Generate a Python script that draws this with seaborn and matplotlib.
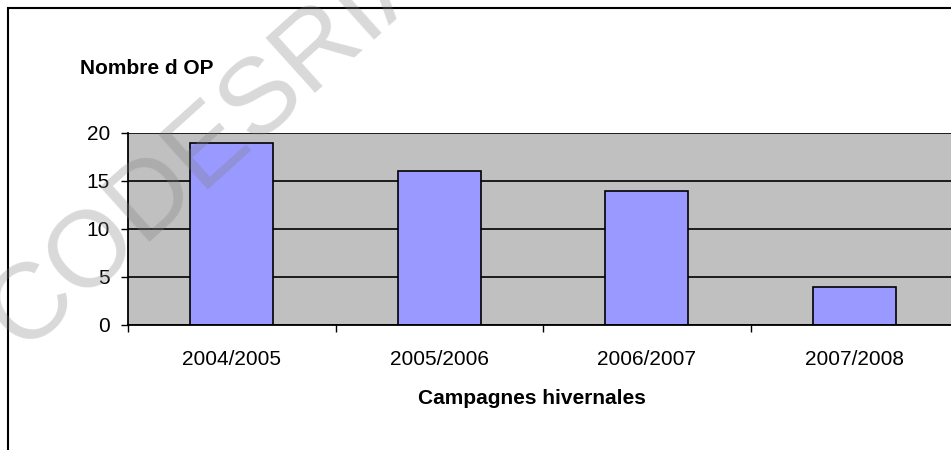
import seaborn as sns
import matplotlib.pyplot as plt
from matplotlib.patches import Rectangle
from matplotlib.ticker import FixedLocator
import pandas as pd

# Data
campagnes = ['2004/2005', '2005/2006', '2006/2007', '2007/2008']
nombre_op = [19, 16, 14, 4]
y_ticks = [0, 5, 10, 15, 20]

df = pd.DataFrame({'campagne': campagnes, 'nombre': nombre_op})

sns.set_style("white")
plt.rcParams['font.family'] = ['Liberation Sans', 'DejaVu Sans']
plt.rcParams['text.color'] = 'black'
plt.rcParams['xtick.color'] = 'black'
plt.rcParams['ytick.color'] = 'black'

fig = plt.figure(figsize=(9.51, 4.5), dpi=100)
W, H = 951, 450
# plot area: x 128 -> 958 (cut at right edge), y 133 -> 325
ax = fig.add_axes([128 / W, 1 - 325 / H, 830 / W, 192 / H])
ax.set_facecolor('#C0C0C0')

sns.barplot(data=df, x='campagne', y='nombre', color='#9999FF', saturation=1,
            edgecolor='black', linewidth=1.2, width=0.4, ax=ax)

ax.set_axisbelow(True)
ax.yaxis.grid(True, color='black', linewidth=1.2)
ax.xaxis.grid(False)
ax.set_ylim(0, 20)
ax.set_yticks(y_ticks)
ax.set_xlim(-0.5, 3.5)

# category labels, ticks at category boundaries
ax.tick_params(axis='x', which='major', length=0, pad=18, labelsize=15, colors='black')
ax.xaxis.set_minor_locator(FixedLocator([-0.5, 0.5, 1.5, 2.5, 3.5]))
ax.tick_params(axis='x', which='minor', bottom=True, length=5, width=1, color='black', direction='out')
ax.tick_params(axis='y', left=True, length=5, width=1, color='black', direction='out',
               pad=8, labelsize=15, labelcolor='black')

ax.set_xlabel('')
ax.set_ylabel('')
for side in ['left', 'bottom']:
    ax.spines[side].set_color('black')
    ax.spines[side].set_linewidth(1.3)
ax.spines['top'].set_visible(False)
ax.spines['right'].set_visible(False)

# axis titles
fig.text(80 / W, 1 - 68 / H, 'Nombre d OP', fontsize=15, fontweight='bold',
         color='black', ha='left', va='center')
fig.text(531.5 / W, 1 - 399 / H, 'Campagnes hivernales', fontsize=15, fontweight='bold',
         color='black', ha='center', va='center')

# chart border (cropped at right and bottom)
fig.patches.append(Rectangle((8 / W, -0.1), 2, 1.1 - 8 / H, transform=fig.transFigure,
                             fill=False, edgecolor='black', linewidth=1.5))

# watermark (runs off the top-left corner, as in the source)
fig.text(213 / W, 1 - 142 / H, 'CODESRIA', fontsize=78, color='#808080', alpha=0.3,
         rotation=42, rotation_mode='anchor', ha='center', va='center', zorder=10)

plt.savefig('out.png', dpi=100)
